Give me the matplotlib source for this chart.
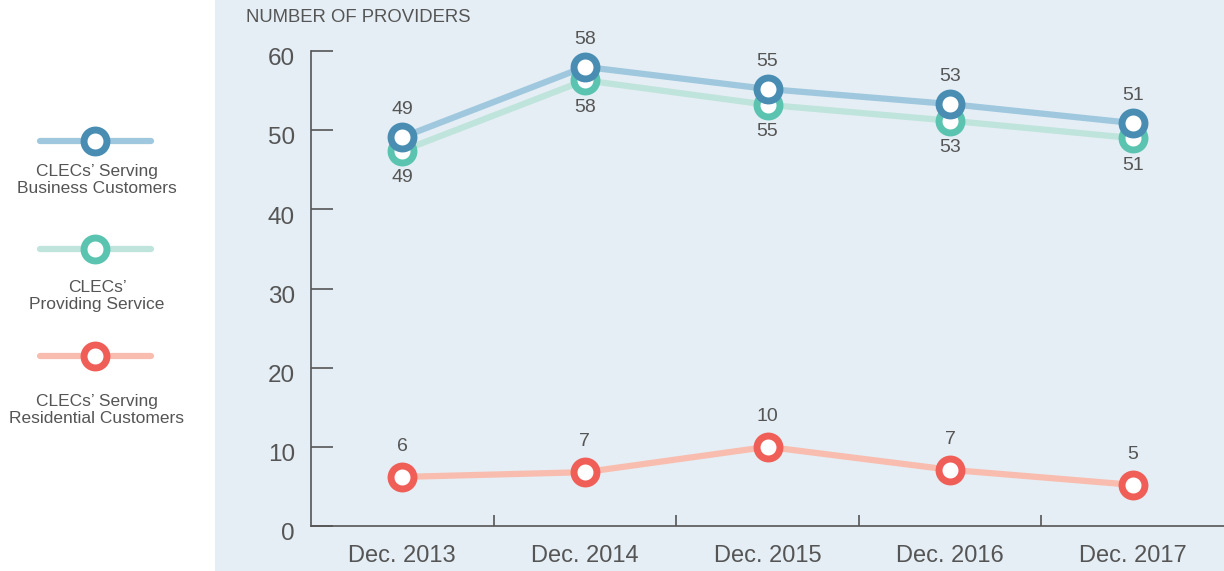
import matplotlib
matplotlib.use("Agg")
import matplotlib.pyplot as plt
from matplotlib.patches import Rectangle

plt.rcParams['font.family'] = ['Liberation Sans', 'DejaVu Sans']

categories = ["Dec. 2013", "Dec. 2014", "Dec. 2015", "Dec. 2016", "Dec. 2017"]
business_values = [49.1, 58.0, 55.2, 53.3, 50.9]
business_labels = ["49", "58", "55", "53", "51"]
providing_values = [47.4, 56.3, 53.2, 51.2, 49.0]
providing_labels = ["49", "58", "55", "53", "51"]
residential_values = [6.2, 6.8, 10.0, 7.1, 5.2]
residential_labels = ["6", "7", "10", "7", "5"]
y_ticks = [0, 10, 20, 30, 40, 50, 60]

series_names = ["CLECs\u2019 Serving\nBusiness Customers",
                "CLECs\u2019\nProviding Service",
                "CLECs\u2019 Serving\nResidential Customers"]

TEXT = "#555555"
BG = "#e5eef4"
c_bus_line, c_bus_mk = "#9fc8de", "#4a8db3"
c_pro_line, c_pro_mk = "#bfe4dc", "#5bc4b0"
c_res_line, c_res_mk = "#f9bdb0", "#ef5f58"

W, H = 1224, 571
fig = plt.figure(figsize=(W / 100, H / 100), dpi=100)
fig.patches.append(Rectangle((215 / W, 0), 1 - 215 / W, 1, transform=fig.transFigure,
                             facecolor=BG, edgecolor="none", zorder=-10))

ax = fig.add_axes([311 / W, (H - 526) / H, 1 - 311 / W, (526 - 51) / H])
ax.set_zorder(5)
ax.patch.set_visible(False)
x = list(range(len(categories)))

mk = dict(marker="o", markersize=16.5, markeredgewidth=5, markerfacecolor="white")
lw = 4.5
ax.plot(x, providing_values, color=c_pro_line, lw=lw, zorder=2, solid_capstyle="butt")
ax.plot(x, business_values, color=c_bus_line, lw=lw, zorder=3, solid_capstyle="butt")
ax.plot(x, residential_values, color=c_res_line, lw=lw, zorder=3, solid_capstyle="butt")
ax.plot(x, providing_values, ls="none", markeredgecolor=c_pro_mk, zorder=4, clip_on=False, **mk)
ax.plot(x, business_values, ls="none", markeredgecolor=c_bus_mk, zorder=5, clip_on=False, **mk)
ax.plot(x, residential_values, ls="none", markeredgecolor=c_res_mk, zorder=5, clip_on=False, **mk)

fs_val = 14
for xi, v, l in zip(x, business_values, business_labels):
    ax.annotate(l, (xi, v), xytext=(0, 20), textcoords="offset points",
                ha="center", va="center", fontsize=fs_val, color=TEXT, annotation_clip=False)
for xi, v, l in zip(x, providing_values, providing_labels):
    ax.annotate(l, (xi, v), xytext=(0, -19.5), textcoords="offset points",
                ha="center", va="center", fontsize=fs_val, color=TEXT, annotation_clip=False)
for xi, v, l in zip(x, residential_values, residential_labels):
    ax.annotate(l, (xi, v), xytext=(0, 22), textcoords="offset points",
                ha="center", va="center", fontsize=fs_val, color=TEXT, annotation_clip=False)

ax.set_xlim(-0.5, len(categories) - 0.5)
ax.set_ylim(0, 60)
for s in ["top", "right"]:
    ax.spines[s].set_visible(False)
for s in ["left", "bottom"]:
    ax.spines[s].set_color(TEXT)
    ax.spines[s].set_linewidth(1.2)

ax.set_yticks(y_ticks)
ax.set_yticklabels([])
ax.tick_params(axis="y", direction="in", length=16, width=1.2, color=TEXT)
for t in y_ticks:
    ax.annotate(str(t), (0, t), xycoords=("axes fraction", "data"), xytext=(-11.5, -6),
                textcoords="offset points", ha="right", va="center", fontsize=17.5, color=TEXT,
                annotation_clip=False)

ax.set_xticks(x)
ax.set_xticklabels(categories, fontsize=17, color=TEXT)
ax.tick_params(axis="x", which="major", length=0, pad=14)
ax.set_xticks([i + 0.5 for i in x[:-1]], minor=True)
ax.tick_params(axis="x", which="minor", direction="in", length=8, width=1.2, color=TEXT)

fig.text(246 / W, 1 - 18 / H, "NUMBER OF PROVIDERS", ha="left", va="center",
         fontsize=13.3, color=TEXT)

# legend panel
lax = fig.add_axes([0, 0, 215 / W, 1])
lax.set_xlim(0, 215)
lax.set_ylim(H, 0)
lax.axis("off")
leg_rows = [(141, 180, c_bus_line, c_bus_mk), (249, 296, c_pro_line, c_pro_mk),
            (356, 410, c_res_line, c_res_mk)]
for name, (ym, yt, cl, cm) in zip(series_names, leg_rows):
    lax.plot([40, 151], [ym, ym], color=cl, lw=lw, solid_capstyle="round")
    lax.plot([95], [ym], ls="none", markeredgecolor=cm, **mk)
    lax.text(97, yt, name, ha="center", va="center", fontsize=12.5, color=TEXT,
             linespacing=1.1)

fig.savefig("out.png", dpi=100)
